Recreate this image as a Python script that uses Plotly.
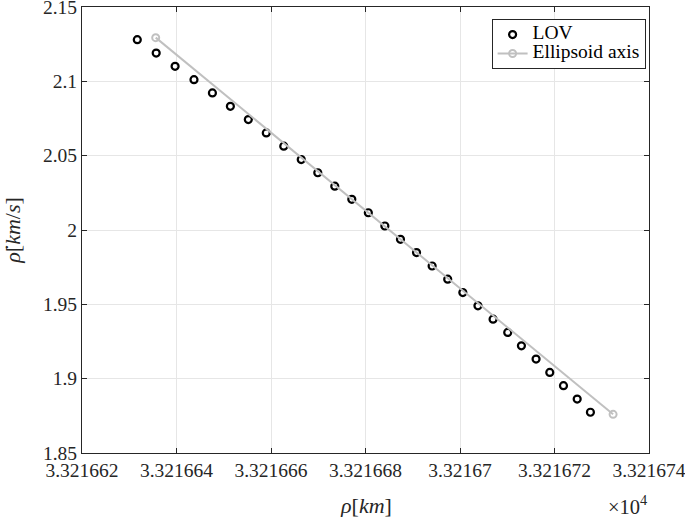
import plotly.graph_objects as go

# LOV samples (rho in units of 1e4 km, rho-dot in km/s)
lov_rho = [3.32166317, 3.32166357, 3.32166397, 3.32166437, 3.32166476, 3.32166514,
           3.32166552, 3.32166590, 3.32166627, 3.32166664, 3.32166699, 3.32166735,
           3.32166771, 3.32166806, 3.32166841, 3.32166874, 3.32166908, 3.32166941,
           3.32166974, 3.32167006, 3.32167038, 3.32167070, 3.32167101, 3.32167130,
           3.32167161, 3.32167190, 3.32167219, 3.32167248, 3.32167276]
lov_rhodot = [2.1280, 2.1190, 2.1101, 2.1011, 2.0922, 2.0832, 2.0743, 2.0653,
              2.0564, 2.0474, 2.0385, 2.0295, 2.0206, 2.0116, 2.0027, 1.9937,
              1.9848, 1.9758, 1.9669, 1.9579, 1.9490, 1.9400, 1.9311, 1.9221,
              1.9132, 1.9042, 1.8953, 1.8863, 1.8774]

# Ellipsoid axis end points
axis_rho = [3.32166356, 3.32167324]
axis_rhodot = [2.1294, 1.8760]

x_tickvals = [3.321662, 3.321664, 3.321666, 3.321668, 3.321670, 3.321672, 3.321674]
x_ticktext = ["3.321662", "3.321664", "3.321666", "3.321668", "3.32167", "3.321672", "3.321674"]
y_tickvals = [1.85, 1.90, 1.95, 2.00, 2.05, 2.10, 2.15]
y_ticktext = ["1.85", "1.9", "1.95", "2", "2.05", "2.1", "2.15"]

FONT = "Liberation Serif"
FS = 19.5
DARK = "#262626"
GRID = "#e6e6e6"

def big(s):
    return '<span style="font-size:19.5px">' + s + '</span>'

fig = go.Figure()
fig.add_trace(go.Scatter(
    x=lov_rho, y=lov_rhodot, mode="markers", name=big("LOV"),
    marker=dict(symbol="circle-open", size=7, color="black", line=dict(width=2.2, color="black")),
))
fig.add_trace(go.Scatter(
    x=axis_rho, y=axis_rhodot, mode="lines+markers", name=big("Ellipsoid axis"),
    line=dict(color="#c0c0c0", width=2),
    marker=dict(symbol="circle-open", size=7, color="#c0c0c0", line=dict(width=2, color="#c0c0c0")),
))

axis_common = dict(
    showline=True, linecolor=DARK, linewidth=1, mirror="ticks",
    ticks="inside", ticklen=5, tickcolor=DARK, tickwidth=1,
    showgrid=True, gridcolor=GRID, gridwidth=1, zeroline=False,
    tickfont=dict(family=FONT, size=FS, color=DARK),
    ticklabeloverflow="allow", automargin=False,
)

eps_x = 1e-10
eps_y = 1e-7
fig.update_layout(
    width=685, height=517,
    margin=dict(l=82, r=36, t=7, b=64, autoexpand=False),
    paper_bgcolor="white", plot_bgcolor="white",
    font=dict(family=FONT, size=FS, color=DARK),
    showlegend=True,
    legend=dict(
        x=0.994, xanchor="right", y=0.973, yanchor="top",
        bgcolor="white", bordercolor=DARK, borderwidth=1,
        font=dict(family=FONT, size=12, color="black"),
        tracegroupgap=0,
    ),
    xaxis=dict(range=[3.321662 - eps_x, 3.321674 + eps_x], tickvals=x_tickvals, ticktext=x_ticktext, **axis_common),
    yaxis=dict(range=[1.85 - eps_y, 2.15 + eps_y], tickvals=y_tickvals, ticktext=y_ticktext, **axis_common),
    annotations=[
        dict(text="<i>ρ</i>[<i>km</i>]", xref="paper", yref="paper", x=0.5, y=-0.118,
             xanchor="center", yanchor="middle", showarrow=False,
             font=dict(family=FONT, size=22, color=DARK)),
        dict(text="×10<sup>4</sup>", xref="paper", yref="paper", x=1.0, y=-0.116,
             xanchor="right", yanchor="middle", showarrow=False,
             font=dict(family=FONT, size=20.5, color=DARK)),
        dict(text="<i>ρ̇</i>[<i>km</i>/<i>s</i>]", xref="paper", yref="paper", x=-0.124, y=0.5,
             xanchor="center", yanchor="middle", textangle=-90, showarrow=False,
             font=dict(family=FONT, size=22, color=DARK)),
    ],
)

fig.write_html("out.html", config={"displayModeBar": False},
               post_script="document.body.style.margin='0';")
